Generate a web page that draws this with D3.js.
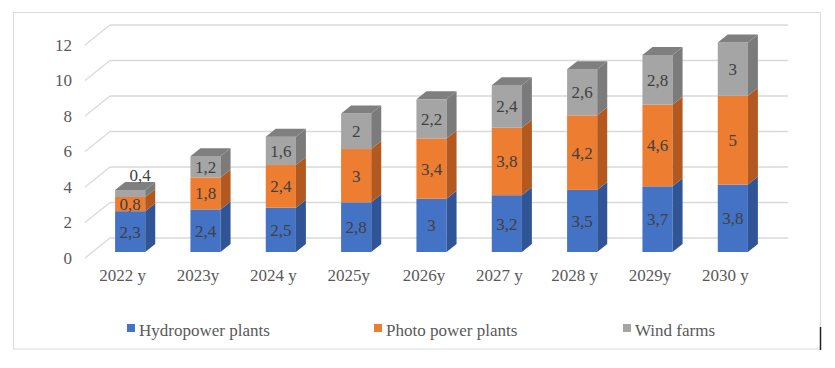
<!DOCTYPE html>
<html>
<head>
<meta charset="utf-8">
<script src="https://cdn.jsdelivr.net/npm/d3@7"></script>
<style>
  html, body { margin: 0; padding: 0; background: #fff; }
  svg { display: block; }
</style>
</head>
<body>
<svg id="chart" width="835" height="368" font-family="Liberation Serif, DejaVu Serif, serif"></svg>
<script>
const categories = ["2022 y", "2023y", "2024 y", "2025y", "2026y", "2027 y", "2028 y", "2029y", "2030 y"];
const hydro = [2.3, 2.4, 2.5, 2.8, 3, 3.2, 3.5, 3.7, 3.8];
const photo = [0.8, 1.8, 2.4, 3, 3.4, 3.8, 4.2, 4.6, 5];
const wind  = [0.4, 1.2, 1.6, 2, 2.2, 2.4, 2.6, 2.8, 3];
const seriesNames = ["Hydropower plants", "Photo power plants", "Wind farms"];
const yTicks = [0, 2, 4, 6, 8, 10, 12];

const FONT = "Liberation Serif";

const colors = {
  front: ["#4472C4", "#ED7D31", "#A5A5A5"],
  side:  ["#2F5597", "#B3591F", "#7B7B7B"],
  top:   ["#3A62AA", "#C86A28", "#7F7F7F"]
};

const svg = d3.select("#chart");

svg.append("rect").attr("x", 13.5).attr("y", 12.5).attr("width", 807).attr("height", 336.5)
  .attr("fill", "#fff").attr("stroke", "#D9D9D9").attr("stroke-width", 1);
svg.append("line").attr("x1", 820.5).attr("x2", 820.5).attr("y1", 327).attr("y2", 350)
  .attr("stroke", "#222").attr("stroke-width", 1.5);

const DX = 25, DY = -20;
const dFront = 0.3, dBack = 0.7;

const x = d3.scaleBand().domain(categories).range([85, 763]).paddingInner(0).paddingOuter(0);
const y = d3.scaleLinear().domain([0, 12]).range([258, 45]);

const grid = svg.append("g");
yTicks.forEach(t => {
  grid.append("line")
    .attr("x1", x.range()[0]).attr("y1", y(t))
    .attr("x2", x.range()[0] + DX).attr("y2", y(t) + DY)
    .attr("stroke", "#D9D9D9").attr("stroke-width", 1.3);
  grid.append("line")
    .attr("x1", x.range()[0] + DX).attr("y1", y(t) + DY)
    .attr("x2", x.range()[1] + DX).attr("y2", y(t) + DY)
    .attr("stroke", "#D9D9D9").attr("stroke-width", 1.3);
});

const yAxis = d3.axisLeft(y).tickValues(yTicks).tickSize(0).tickPadding(13).tickFormat(d3.format("d"));
const gy = svg.append("g").attr("transform", `translate(${x.range()[0]},0)`).call(yAxis);
gy.attr("font-family", FONT).attr("font-size", 17);
gy.select(".domain").remove();
gy.selectAll("text").attr("fill", "#595959").attr("font-family", FONT).attr("font-size", 17);

const xAxis = d3.axisBottom(x).tickSize(0).tickPadding(0);
const gx = svg.append("g").attr("transform", `translate(0,${y(0) + 11})`).call(xAxis);
gx.attr("font-family", FONT).attr("font-size", 17);
gx.select(".domain").remove();
gx.selectAll("text").attr("fill", "#595959").attr("font-family", FONT).attr("font-size", 17);

const rows = categories.map((c, i) => ({ cat: c, s0: hydro[i], s1: photo[i], s2: wind[i] }));
const stack = d3.stack().keys(["s0", "s1", "s2"])(rows);

const bw = x.bandwidth() * 0.4;
const fdx = DX * dFront, fdy = DY * dFront;
const sdx = DX * (dBack - dFront), sdy = DY * (dBack - dFront);
const fmt = v => String(v).replace(".", ",");

const bars = svg.append("g");
const labels = svg.append("g");
categories.forEach((c, i) => {
  const cx = x(c) + x.bandwidth() / 2 + fdx;
  const x0 = cx - bw / 2, x1 = cx + bw / 2;
  stack.forEach((layer, k) => {
    const [v0, v1] = layer[i];
    const yb = y(v0) + fdy, yt = y(v1) + fdy;
    bars.append("rect").attr("x", x0).attr("y", yt).attr("width", bw).attr("height", yb - yt)
      .attr("fill", colors.front[k]);
    bars.append("path")
      .attr("d", `M${x1},${yb}L${x1},${yt}L${x1 + sdx},${yt + sdy}L${x1 + sdx},${yb + sdy}Z`)
      .attr("fill", colors.side[k]);
    if (k === stack.length - 1) {
      bars.append("path")
        .attr("d", `M${x0},${yt}L${x1},${yt}L${x1 + sdx},${yt + sdy}L${x0 + sdx},${yt + sdy}Z`)
        .attr("fill", colors.top[k]);
    }
    const val = layer[i].data["s" + k];
    const segH = yb - yt;
    let lx = cx, ly = (yb + yt) / 2;
    if (segH < 14) { lx = cx + 10; ly = yt + sdy - 7; }
    labels.append("text").attr("x", lx).attr("y", ly).attr("dy", "0.35em")
      .attr("text-anchor", "middle").attr("fill", "#404040")
      .attr("font-family", FONT).attr("font-size", 17).text(fmt(val));
  });
});

const legendX = [127, 374, 623];
const lg = svg.append("g");
seriesNames.forEach((n, k) => {
  lg.append("rect").attr("x", legendX[k]).attr("y", 324).attr("width", 8).attr("height", 8)
    .attr("fill", colors.front[k]);
  lg.append("text").attr("x", legendX[k] + 12).attr("y", 335.5).attr("fill", "#595959")
    .attr("font-family", FONT).attr("font-size", 17).text(n);
});
</script>
</body>
</html>
